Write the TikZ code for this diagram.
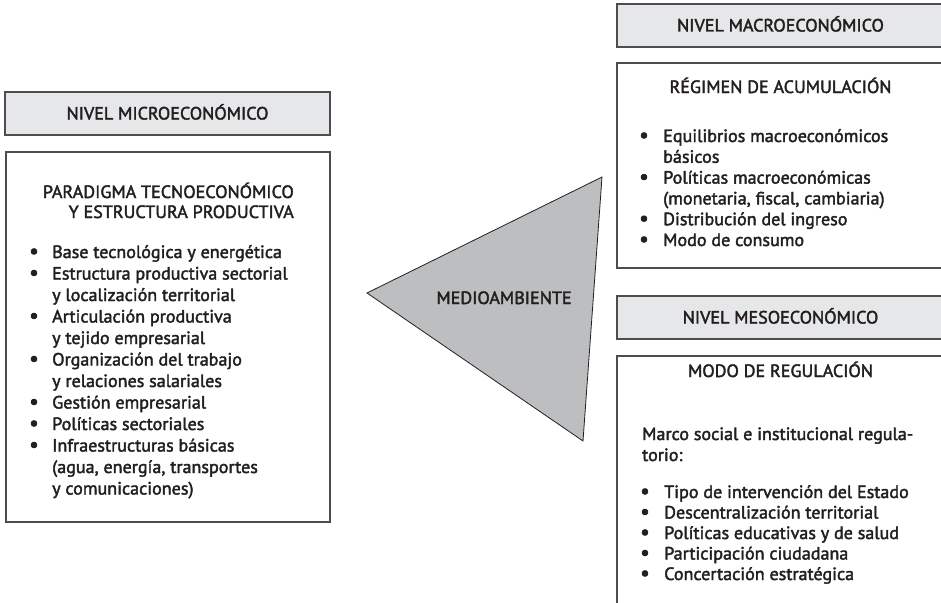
\documentclass[tikz,border=0pt]{standalone}
\usepackage{fontspec}
\setmainfont{PT Sans}
\newfontfamily\boldish{PT Sans}[FakeBold=2.2,FakeStretch=1.015]
\definecolor{txt}{HTML}{231F20}
\definecolor{hdr}{HTML}{E6E7E8}
\definecolor{tri}{HTML}{BDBEC0}
\definecolor{edge}{HTML}{4D4D4F}
\newcommand{\lfont}{\boldish\fontsize{17.8}{20}\selectfont}
\newcommand{\bfontx}{\boldish\fontsize{21}{20}\selectfont}
\begin{document}
\begin{tikzpicture}[x=1pt,y=-1pt,
  hdrbox/.style={draw=edge,line width=1.2pt,fill=hdr,inner sep=0pt,text=txt,
    font=\lfont,text height=12pt,text depth=0pt},
  frame/.style={draw=edge,line width=1.2pt,inner sep=0pt},
  ttl/.style={anchor=base,inner sep=0pt,text=txt,font=\lfont},
  ln/.style={anchor=base west,inner sep=0pt,text=txt,font=\lfont},
  bul/.style={anchor=base,inner sep=0pt,text=txt,font=\bfontx}]
\useasboundingbox (0,0) rectangle (941,602);
\clip (0,0) rectangle (941,602);
% ---------- micro ----------
\node[hdrbox,minimum width=325pt,minimum height=43pt] (microhdr) at (167.5,113.5) {NIVEL MICROECONÓMICO};
\node[frame,minimum width=324pt,minimum height=370pt] (microbox) at (168,337) {};
\node[ttl,anchor=base east] (mt1) at (294,198) {PARADIGMA TECNOECONÓMICO};
\node[ttl,anchor=base east] (mt2) at (294,218) {Y ESTRUCTURA PRODUCTIVA};
\node[bul] (mb0) at (34,258) {•};
\node[ln] (m0) at (52,258) {Base tecnológica y energética};
\node[bul] (mb1) at (34,279.5) {•};
\node[ln] (m1) at (52,279.5) {Estructura productiva sectorial};
\node[ln] (m2) at (52,301) {y localización territorial};
\node[bul] (mb3) at (34,322.5) {•};
\node[ln] (m3) at (52,322.5) {Articulación productiva};
\node[ln] (m4) at (52,344) {y tejido empresarial};
\node[bul] (mb5) at (34,365.5) {•};
\node[ln] (m5) at (52,365.5) {Organización del trabajo};
\node[ln] (m6) at (52,387) {y relaciones salariales};
\node[bul] (mb7) at (34,408.5) {•};
\node[ln] (m7) at (52,408.5) {Gestión empresarial};
\node[bul] (mb8) at (34,430) {•};
\node[ln] (m8) at (52,430) {Políticas sectoriales};
\node[bul] (mb9) at (34,451.5) {•};
\node[ln] (m9) at (52,451.5) {Infraestructuras básicas};
\node[ln] (m10) at (52,473) {(agua, energía, transportes};
\node[ln] (m11) at (52,494.5) {y comunicaciones)};
% ---------- triangle ----------
\coordinate (ta) at (602,177);
\coordinate (tb) at (367,293);
\coordinate (tc) at (583,441);
\filldraw[fill=tri,draw=txt,line width=0.8pt,line join=miter] (ta) -- (tb) -- (tc) -- cycle;
\node[ttl] (medio) at (504,304) {MEDIOAMBIENTE};
% ---------- macro ----------
\node[hdrbox,minimum width=327pt,minimum height=43pt] (macrohdr) at (780.5,25.5) {NIVEL MACROECONÓMICO};
\node[frame,minimum width=327pt,minimum height=205pt] (macrobox) at (780.5,165.5) {};
\node[ttl] (rt) at (780.5,93) {RÉGIMEN DE ACUMULACIÓN};
\node[bul] (rb0) at (644,142) {•};
\node[ln] (r0) at (663,142) {Equilibrios macroeconómicos};
\node[ln] (r1) at (663,162.8) {básicos};
\node[bul] (rb2) at (644,183.6) {•};
\node[ln] (r2) at (663,183.6) {Políticas macroeconómicas};
\node[ln] (r3) at (663,204.4) {(monetaria, fiscal, cambiaria)};
\node[bul] (rb4) at (644,225.2) {•};
\node[ln] (r4) at (663,225.2) {Distribución del ingreso};
\node[bul] (rb5) at (644,246) {•};
\node[ln] (r5) at (663,246) {Modo de consumo};
% ---------- meso ----------
\node[hdrbox,minimum width=327pt,minimum height=43pt] (mesohdr) at (780.5,317.5) {NIVEL MESOECONÓMICO};
\node[frame,minimum width=327pt,minimum height=280pt] (mesobox) at (780.5,496) {};
\node[ttl] (st) at (780.5,377) {MODO DE REGULACIÓN};
\node[ln] (s0) at (642,440) {Marco social e institucional regula-};
\node[ln] (s1) at (642,461) {torio:};
\node[bul] (sb2) at (645,498) {•};
\node[ln] (s2) at (664,498) {Tipo de intervención del Estado};
\node[bul] (sb3) at (645,518.5) {•};
\node[ln] (s3) at (664,518.5) {Descentralización territorial};
\node[bul] (sb4) at (645,539) {•};
\node[ln] (s4) at (664,539) {Políticas educativas y de salud};
\node[bul] (sb5) at (645,559.5) {•};
\node[ln] (s5) at (664,559.5) {Participación ciudadana};
\node[bul] (sb6) at (645,580) {•};
\node[ln] (s6) at (664,580) {Concertación estratégica};
\end{tikzpicture}
\end{document}
